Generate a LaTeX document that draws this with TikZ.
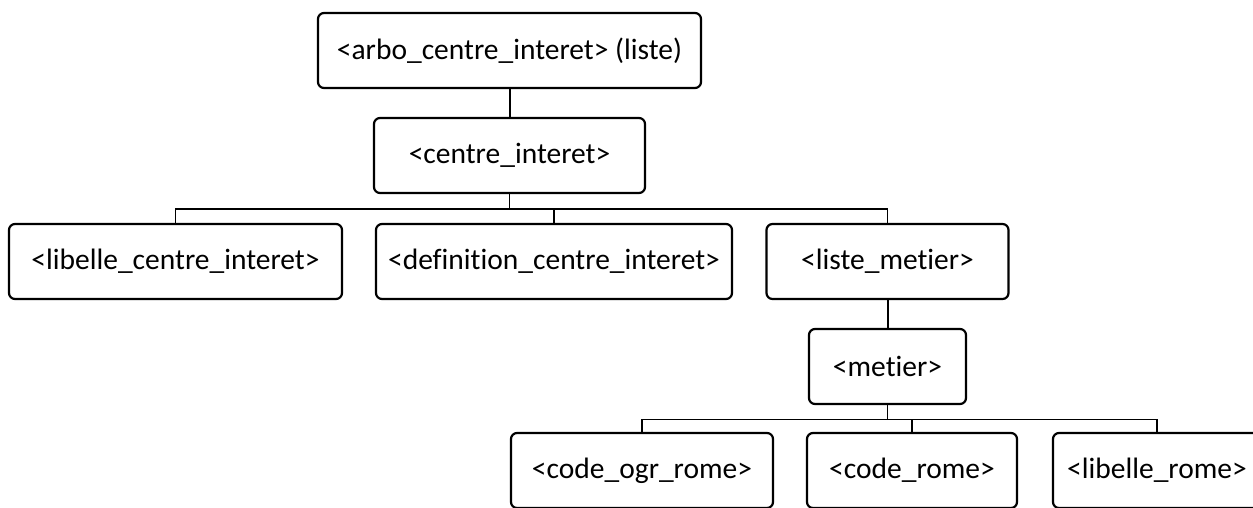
\documentclass[tikz,border=0pt]{standalone}
\usepackage{fontspec}
\setmainfont{Carlito}[RawFeature={-liga;-clig;-dlig;-calt}]
\newcommand{\tI}{t\kern0pt i}
\begin{document}
\begin{tikzpicture}[x=1pt,y=1pt,
  box/.style={draw=black, line width=2.2pt, rounded corners=6pt, minimum height=75pt, inner sep=0pt, font=\fontsize{29.5}{34}\selectfont, text=black},
  thickconn/.style={draw=black, line width=2pt},
  busconn/.style={draw=black, line width=1.2pt}]
\useasboundingbox (0,0) rectangle (1253,-507);
\node[box, minimum width=383pt] (arbo) at (509.5,-50.5) {<arbo\_centre\_interet> (liste)};
\node[box, minimum width=271pt] (ci) at (509.5,-155.5) {<centre\_interet>};
\node[box, minimum width=333pt] (lib) at (175.5,-261.5) {<libelle\_centre\_interet>};
\node[box, minimum width=356pt] (def) at (554,-261.5) {<defini\tI on\_centre\_interet>};
\node[box, minimum width=242pt] (lm) at (887.5,-261.5) {<liste\_me\tI er>};
\node[box, minimum width=157pt] (met) at (887.5,-366.5) {<me\tI er>};
\node[box, minimum width=262pt] (ogr) at (642,-470.5) {<code\_ogr\_rome>};
\node[box, minimum width=210pt] (cr) at (912,-470.5) {<code\_rome>};
\node[box, minimum width=208pt] (lr) at (1157,-470.5) {<libelle\_rome>};
\coordinate (bus1) at (509.5,-209);
\coordinate (bus2) at (887.5,-419.5);
\draw[thickconn] (arbo.south) -- (ci.north);
\draw[busconn] (ci.south) -- (bus1);
\draw[busconn] (lib.north) |- (bus1) -| (lm.north);
\draw[busconn] (def.north) -- (def.north |- bus1);
\draw[thickconn] (lm.south) -- (met.north);
\draw[busconn] (met.south) -- (bus2);
\draw[busconn] (ogr.north) |- (bus2) -| (lr.north);
\draw[busconn] (cr.north) -- (cr.north |- bus2);
\end{tikzpicture}
\end{document}
